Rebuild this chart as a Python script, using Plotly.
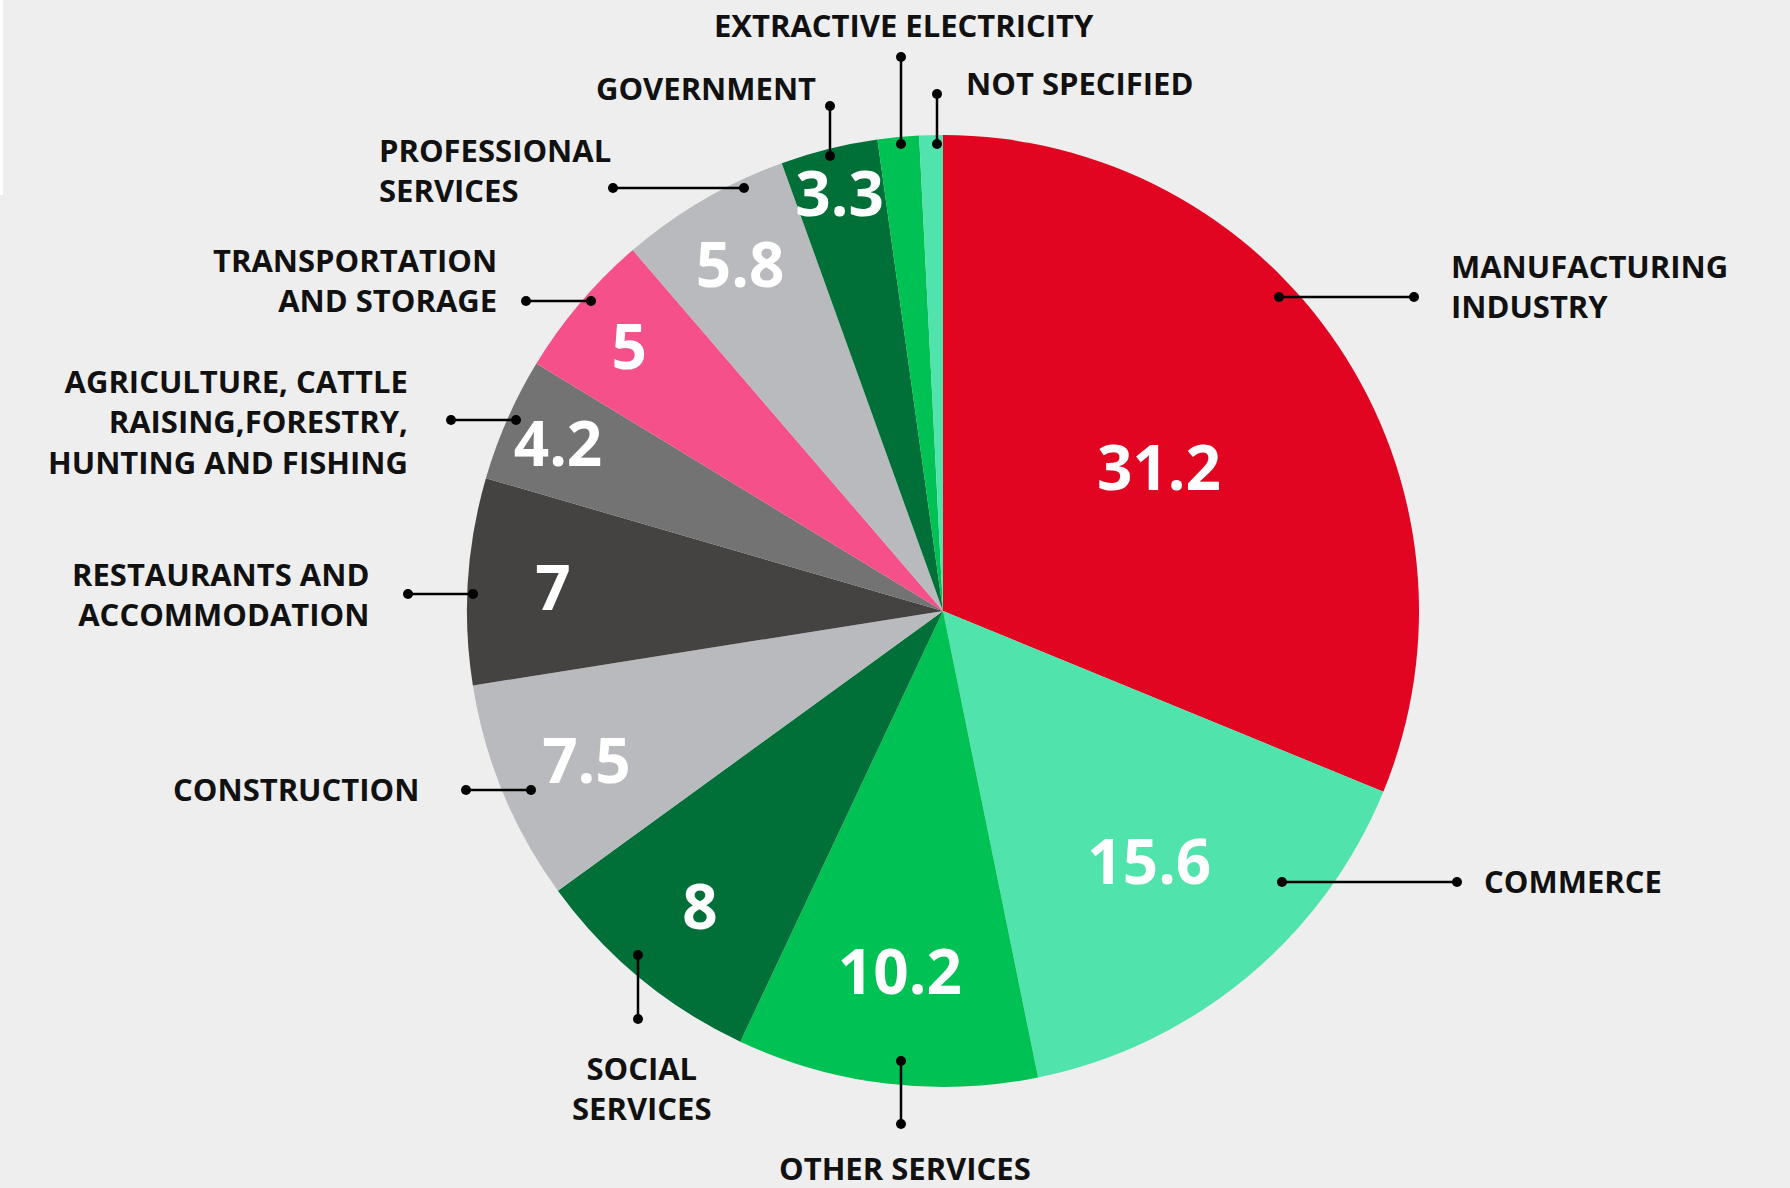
import plotly.graph_objects as go

# Employment share by sector (%), clockwise from 12 o'clock
sectors = [
    "Manufacturing industry", "Commerce", "Other services", "Social services",
    "Construction", "Restaurants and accommodation",
    "Agriculture, cattle raising, forestry, hunting and fishing",
    "Transportation and storage", "Professional services", "Government",
    "Extractive electricity", "Not specified",
]
shares = [31.2, 15.6, 10.2, 8, 7.5, 7, 4.2, 5, 5.8, 3.3, 1.4, 0.8]
colors = [
    "#E10521", "#50E3AC", "#00C153", "#006F38", "#B9BABD", "#454341",
    "#737373", "#F5508A", "#B9BABD", "#006F38", "#00C153", "#50E3AC",
]
# numbers printed inside the slices (tiny slices left blank)
value_labels = [f"{v:g}" if v > 2 else "" for v in shares]

W, H = 1790, 1188
FONT = "Open Sans"


def px(x, y):
    return x / W, 1 - y / H


fig = go.Figure(go.Pie(
    labels=sectors,
    values=shares,
    text=value_labels,
    textinfo="text",
    textposition="inside",
    insidetextorientation="horizontal",
    textfont=dict(color="white", size=62, family=FONT, weight="bold"),
    marker=dict(colors=colors, line=dict(width=0)),
    sort=False,
    direction="clockwise",
    rotation=0,
    hole=0,
    domain=dict(x=[467 / W, 1419 / W], y=[101 / H, 1053 / H]),
    showlegend=False,
))

# outside labels: (text, x, y of block centre, anchor) in canvas pixels
callouts = [
    ("EXTRACTIVE ELECTRICITY", 904, 25, "center"),
    ("GOVERNMENT", 817, 88, "right"),
    ("NOT SPECIFIED", 965, 83, "left"),
    ("PROFESSIONAL<br>SERVICES", 378, 170, "left"),
    ("TRANSPORTATION<br>AND STORAGE", 498, 280, "right"),
    ("AGRICULTURE, CATTLE<br>RAISING,FORESTRY,<br>HUNTING AND FISHING", 409, 421, "right"),
    ("RESTAURANTS AND<br>ACCOMMODATION", 370, 594, "right"),
    ("CONSTRUCTION", 420, 789, "right"),
    ("SOCIAL<br>SERVICES", 642, 1088, "center"),
    ("OTHER SERVICES", 905, 1168, "center"),
    ("COMMERCE", 1483, 881, "left"),
    ("MANUFACTURING<br>INDUSTRY", 1450, 286, "left"),
]

# leader lines (x0, y0, x1, y1) in pixels
leaders = [
    (901, 57, 901, 144),
    (830, 106, 830, 156),
    (937, 94, 937, 144),
    (613, 188, 744, 188),
    (526, 301, 591, 301),
    (451, 420, 516, 420),
    (408, 594, 473, 594),
    (466, 790, 531, 790),
    (638, 955, 638, 1019),
    (901, 1061, 901, 1124),
    (1282, 882, 1457, 882),
    (1279, 297, 1414, 297),
]

annotations = []
for txt, x, y, anchor in callouts:
    ax, ay = px(x, y)
    annotations.append(dict(
        text=txt, x=ax, y=ay, xref="paper", yref="paper",
        xanchor=anchor, yanchor="middle", align=anchor,
        showarrow=False, borderpad=0,
        font=dict(family=FONT, size=31, color="#111111", weight="bold"),
    ))

shapes = [dict(type="rect", xref="paper", yref="paper",
               x0=0, x1=3 / W, y0=1 - 195 / H, y1=1,
               fillcolor="white", line=dict(width=0), layer="below")]
r = 5
for x0, y0, x1, y1 in leaders:
    a0, b0 = px(x0, y0)
    a1, b1 = px(x1, y1)
    shapes.append(dict(type="line", xref="paper", yref="paper",
                       x0=a0, y0=b0, x1=a1, y1=b1,
                       line=dict(color="black", width=2.5)))
    for cx, cy in ((x0, y0), (x1, y1)):
        c0 = px(cx - r, cy + r)
        c1 = px(cx + r, cy - r)
        shapes.append(dict(type="circle", xref="paper", yref="paper",
                           x0=c0[0], y0=c0[1], x1=c1[0], y1=c1[1],
                           fillcolor="black", line=dict(width=0)))

fig.update_layout(
    width=W, height=H,
    margin=dict(l=0, r=0, t=0, b=0),
    paper_bgcolor="#EEEEEE",
    plot_bgcolor="#EEEEEE",
    uniformtext=dict(minsize=62, mode="show"),
    annotations=annotations,
    shapes=shapes,
)

fig.write_html(
    "out.html",
    config={"displayModeBar": False},
    post_script="document.body.style.margin='0';document.body.style.background='#EEEEEE';",
)
